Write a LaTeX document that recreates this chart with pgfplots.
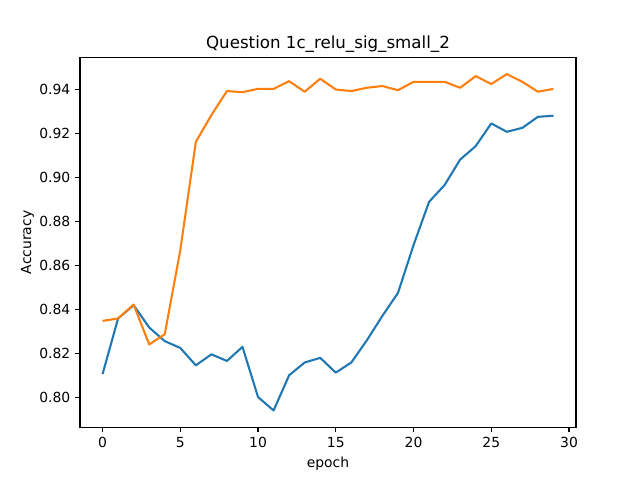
\documentclass[border=0pt]{standalone}
\usepackage{pgfplots}
\pgfplotsset{compat=1.18}
\usepackage{fontspec}
\setmainfont{DejaVu Sans}
\definecolor{tabblue}{HTML}{1F77B4}
\definecolor{taborange}{HTML}{FF7F0E}
\pgfplotstableread{
x blue orange
0 0.8105 0.8347
1 0.8358 0.8358
2 0.8418 0.8421
3 0.8317 0.8240
4 0.8255 0.8286
5 0.8224 0.8668
6 0.8145 0.9160
7 0.8195 0.9282
8 0.8165 0.9391
9 0.8229 0.9386
10 0.8001 0.9401
11 0.7940 0.9401
12 0.8100 0.9436
13 0.8158 0.9388
14 0.8179 0.9447
15 0.8112 0.9398
16 0.8158 0.9391
17 0.8259 0.9406
18 0.8370 0.9414
19 0.8474 0.9395
20 0.8691 0.9433
21 0.8888 0.9433
22 0.8964 0.9433
23 0.9080 0.9406
24 0.9141 0.9459
25 0.9244 0.9423
26 0.9206 0.9468
27 0.9224 0.9433
28 0.9274 0.9388
29 0.9279 0.9401
}\data
\begin{document}
\begin{tikzpicture}
\path[use as bounding box] (0,0) rectangle (460.8pt,345.6pt);
\begin{axis}[
  at={(57.6pt,38.016pt)}, anchor=south west,
  scale only axis, width=357.12pt, height=266.1pt,
  xmin=-1.45, xmax=30.45, ymin=0.7864, ymax=0.9543,
  xtick={0,5,...,30},
  ytick={0.80,0.82,0.84,0.86,0.88,0.90,0.92,0.94},
  yticklabel style={/pgf/number format/.cd, fixed, fixed zerofill, precision=2},
  /pgf/number format/assume math mode=true,
  tick align=outside, tick pos=left,
  major tick length=3.5pt,
  every tick/.style={black, line width=0.8pt},
  axis line style={line width=0.8pt},
  ticklabel style={font=\fontsize{10}{12}\selectfont},
  xlabel={epoch}, ylabel={Accuracy},
  label style={font=\fontsize{10}{12}\selectfont},
  ylabel style={yshift=-3pt},
  title={Question 1c\_relu\_sig\_small\_2},
  title style={font=\fontsize{12}{14}\selectfont, yshift=-5.5pt},
]
\addplot[tabblue, line width=1.5pt, line join=round] table[x=x,y=blue] {\data};
\addplot[taborange, line width=1.5pt, line join=round] table[x=x,y=orange] {\data};
\end{axis}
\end{tikzpicture}
\end{document}
